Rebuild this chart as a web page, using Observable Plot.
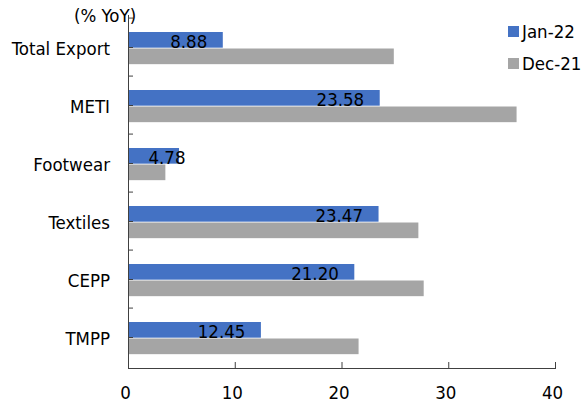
<!DOCTYPE html>
<html>
<head>
<meta charset="utf-8">
<script src="https://cdn.jsdelivr.net/npm/d3@7"></script>
<script src="https://cdn.jsdelivr.net/npm/@observablehq/plot@0.6"></script>
<style>
  html, body { margin: 0; padding: 0; background: #fff; }
  #wrap { position: relative; width: 581px; height: 403px; font-family: "DejaVu Sans Condensed", "DejaVu Sans", sans-serif; font-stretch: condensed; }
  #wrap svg { position: absolute; left: 0; top: 0; }
  .title { position: absolute; left: 74px; top: 5px; font-size: 18.5px; color: #000; line-height: 22px; white-space: nowrap; }
  .legend { position: absolute; left: 508px; top: 19px; font-size: 18.5px; color: #000; white-space: nowrap; width: 73px; }
  .legend .item { display: flex; align-items: center; height: 24px; margin-bottom: 8px; white-space: nowrap; }
  .legend .sw { flex: none; width: 11px; height: 11px; margin-right: 3px; }
</style>
</head>
<body>
<div id="wrap"></div>
<script>
const categories = ["Total Export", "METI", "Footwear", "Textiles", "CEPP", "TMPP"];
const jan22 = [8.88, 23.58, 4.78, 23.47, 21.20, 12.45];
const dec21 = [24.9, 36.4, 3.5, 27.2, 27.7, 21.6];
const seriesNames = ["Jan-22", "Dec-21"];
const seriesColors = ["#4472C4", "#A5A5A5"];
const xTicks = [0, 10, 20, 30, 40];
const unitLabel = "(% YoY)";

const rows = categories.map((c, i) => ({category: c, jan: jan22[i], dec: dec21[i]}));

const W = 581, H = 403, mL = 128, mR = 26, mT = 15, mB = 35;
const plotW = W - mL - mR, plotH = H - mT - mB;
const step = plotH / categories.length;
const axisColor = "#404040";
const font = "'DejaVu Sans Condensed', 'DejaVu Sans', sans-serif";
const fs = 18.5;

const chart = Plot.plot({
  width: W, height: H,
  marginLeft: mL, marginRight: mR, marginTop: mT, marginBottom: mB,
  style: {fontFamily: font, fontSize: fs + "px", color: "#000", background: "#fff"},
  x: {domain: [0, 40]},
  y: {domain: categories, padding: 0},
  marks: [
    Plot.barX(rows, {y: "category", x: "jan", fill: seriesColors[0], insetTop: 14, insetBottom: step - 30.5}),
    Plot.barX(rows, {y: "category", x: "dec", fill: seriesColors[1], insetTop: 30.5, insetBottom: step - 47}),
    Plot.frame({anchor: "left", stroke: axisColor}),
    Plot.frame({anchor: "bottom", stroke: axisColor}),
    Plot.tickX(xTicks, {x: d => d, insetTop: plotH - 6, stroke: axisColor}),
    Plot.tickY(categories, {y: d => d, dy: -step / 2, insetRight: plotW - 5, stroke: axisColor}),
    Plot.tickY(categories, {y: d => d, insetRight: plotW - 5, stroke: axisColor}),
    Plot.axisX({ticks: xTicks, tickSize: 0, tickPadding: 17, dx: -3, tickFormat: d => String(d), label: null, fontSize: fs, fill: "#000"}),
    Plot.axisY({tickSize: 0, tickPadding: 18.5, label: null, dy: 2, fontSize: fs, fill: "#000"}),
    Plot.text(rows.filter(d => d.category !== "Footwear"), {
      x: "jan", y: "category", text: d => d.jan.toFixed(2),
      textAnchor: "end", dx: -16, dy: -5.5, fill: "#000", fontSize: fs
    }),
    Plot.text(rows.filter(d => d.category === "Footwear"), {
      x: "jan", y: "category", text: d => d.jan.toFixed(2),
      textAnchor: "end", dx: 6, dy: -5.5, fill: "#000", fontSize: fs
    })
  ]
});

const wrap = document.getElementById("wrap");
wrap.appendChild(chart);

const title = document.createElement("div");
title.className = "title";
title.textContent = unitLabel;
wrap.appendChild(title);

const legend = document.createElement("div");
legend.className = "legend";
seriesNames.forEach((name, i) => {
  const item = document.createElement("div");
  item.className = "item";
  const sw = document.createElement("span");
  sw.className = "sw";
  sw.style.background = seriesColors[i];
  const label = document.createElement("span");
  label.textContent = name;
  item.appendChild(sw);
  item.appendChild(label);
  legend.appendChild(item);
});
wrap.appendChild(legend);
</script>
</body>
</html>
